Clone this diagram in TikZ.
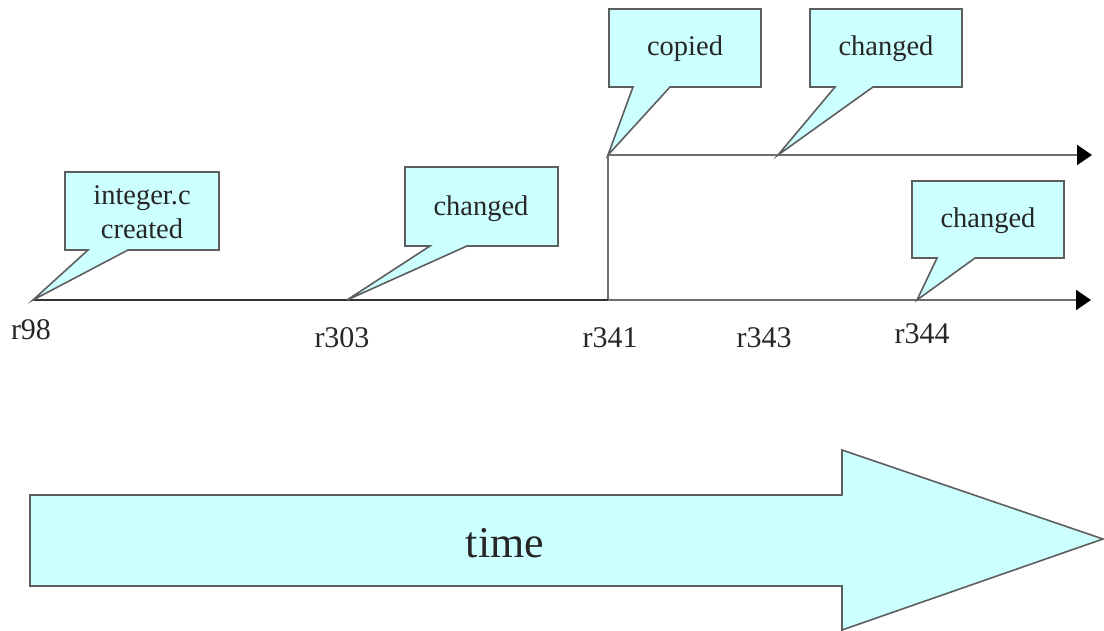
\documentclass[tikz,border=0pt]{standalone}
\usepackage{fontspec}
\setmainfont{Liberation Serif}
\usetikzlibrary{arrows.meta}
\definecolor{cyanfill}{HTML}{CCFFFF}
\definecolor{edgegray}{HTML}{5E5E5E}
\definecolor{linegray}{HTML}{6E6E6E}
\definecolor{darkline}{HTML}{333333}
\tikzset{
  bubble/.style={fill=cyanfill, draw=edgegray, line width=1.6bp, line join=miter},
  bubbletext/.style={inner sep=0pt, align=center, text=black!85, font=\fontsize{28.5bp}{34bp}\selectfont},
  revlabel/.style={inner sep=0pt, text=black!85, font=\fontsize{30bp}{34bp}\selectfont},
  track/.style={draw=linegray, line width=2.2bp},
  trunk/.style={draw=darkline, line width=2.8bp},
  tip/.style={-{Triangle[length=15bp,width=20bp,fill=black,color=black]}},
}
\begin{document}
\begin{tikzpicture}[x=1bp,y=-1bp]
\useasboundingbox (0,0) rectangle (1104,631);

% timeline points
\coordinate (p98) at (33,300);
\coordinate (p303) at (347,300);
\coordinate (p341) at (608,300);
\coordinate (p341u) at (608,155);
\coordinate (p343) at (778,155);
\coordinate (p344) at (917,300);
\coordinate (endlow) at (1091,300);
\coordinate (endup) at (1092,155);

% lines
\draw[track,tip] (p341) -- (endlow);
\draw[track,tip] (p341) -- (p341u) -- (endup);
\draw[trunk] (p98) -- (p341);

% callouts
\path[bubble] (65,172) -- (219,172) -- (219,250) -- (128,250) -- (p98) -- (88,250) -- (65,250) -- cycle;
\node[bubbletext] (c1) at (142,212) {integer.c\\created};

\path[bubble] (405,167) -- (558,167) -- (558,246) -- (467,246) -- (p303) -- (430,246) -- (405,246) -- cycle;
\node[bubbletext] (c2) at (481,209) {changed};

\path[bubble] (609,9) -- (761,9) -- (761,87) -- (670,87) -- (p341u) -- (633,87) -- (609,87) -- cycle;
\node[bubbletext] (c3) at (685,49) {copied};

\path[bubble] (810,9) -- (962,9) -- (962,87) -- (873,87) -- (p343) -- (835,87) -- (810,87) -- cycle;
\node[bubbletext] (c4) at (886,49) {changed};

\path[bubble] (912,181) -- (1064,181) -- (1064,258) -- (975,258) -- (p344) -- (937,258) -- (912,258) -- cycle;
\node[bubbletext] (c5) at (988,221) {changed};

% revision labels
\node[revlabel] (l98) at (31,330) {r98};
\node[revlabel] (l303) at (342,338) {r303};
\node[revlabel] (l341) at (610,338) {r341};
\node[revlabel] (l343) at (764,338) {r343};
\node[revlabel] (l344) at (922,334) {r344};

% big time arrow
\path[bubble] (30,495) -- (842,495) -- (842,450) -- (1103,539) -- (842,630) -- (842,586) -- (30,586) -- cycle;
\node[inner sep=0pt, text=black!85, font=\fontsize{44bp}{48bp}\selectfont] (time) at (505,543) {time};
\end{tikzpicture}
\end{document}
